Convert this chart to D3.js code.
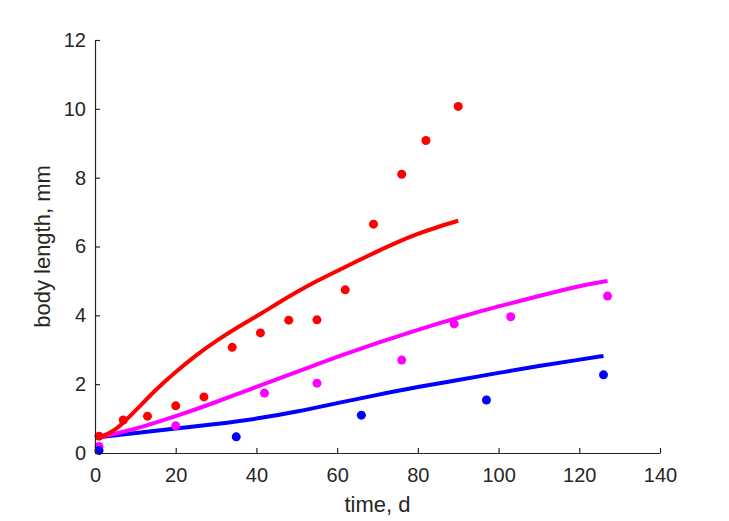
<!DOCTYPE html>
<html>
<head>
<meta charset="utf-8">
<script src="https://cdn.jsdelivr.net/npm/d3@7"></script>
<style>
  html, body { margin: 0; padding: 0; background: #fff; }
  svg { display: block; }
  text { font-family: "Liberation Sans", Arial, Helvetica, sans-serif; }
</style>
</head>
<body>
<svg id="chart" width="729" height="521"></svg>
<script>
// ---- data ----
const xTicks = [0, 20, 40, 60, 80, 100, 120, 140];
const yTicks = [0, 2, 4, 6, 8, 10, 12];

const redDotsT = [1, 7, 13, 20, 27, 34, 41, 48, 55, 62, 69, 76, 82, 90];
const redDotsL = [0.49, 0.96, 1.07, 1.37, 1.63, 3.07, 3.49, 3.86, 3.87, 4.74, 6.65, 8.1, 9.08, 10.07];

const magDotsT = [1, 20, 42, 55, 76, 89, 103, 127];
const magDotsL = [0.19, 0.79, 1.74, 2.03, 2.7, 3.75, 3.96, 4.56];

const blueDotsT = [1, 35, 66, 97, 126];
const blueDotsL = [0.07, 0.47, 1.1, 1.54, 2.27];

const redLineT = [1, 3, 5, 7, 10, 15, 20, 25, 30, 35, 40, 45, 50, 55, 60, 65, 70, 75, 80, 85, 90];
const redLineL = [0.46, 0.54, 0.67, 0.88, 1.22, 1.84, 2.36, 2.84, 3.26, 3.63, 3.97, 4.33, 4.68, 5.0, 5.29, 5.58, 5.86, 6.13, 6.37, 6.57, 6.75];

const magLineT = [1, 5, 10, 15, 20, 25, 30, 35, 40, 45, 50, 55, 60, 65, 70, 75, 80, 85, 90, 95, 100, 105, 110, 115, 120, 127];
const magLineL = [0.47, 0.56, 0.7, 0.88, 1.07, 1.27, 1.48, 1.7, 1.92, 2.14, 2.36, 2.58, 2.79, 3.0, 3.2, 3.39, 3.58, 3.76, 3.93, 4.1, 4.26, 4.41, 4.56, 4.71, 4.85, 5.0];

const blueLineT = [1, 10, 20, 30, 40, 50, 60, 70, 80, 90, 100, 110, 120, 126];
const blueLineL = [0.46, 0.58, 0.71, 0.84, 0.99, 1.2, 1.45, 1.69, 1.92, 2.12, 2.33, 2.53, 2.71, 2.82];

// ---- layout ----
const svg = d3.select("#chart");
const mLeft = 95, mRight = 660, mTop = 40, mBottom = 453;
const axisColor = "#262626";

const x = d3.scaleLinear().domain([0, 140]).range([mLeft, mRight]);
const y = d3.scaleLinear().domain([0, 12]).range([mBottom, mTop]);

const zip = (a, b) => a.map((v, i) => [v, b[i]]);

const line = d3.line().x(d => x(d[0])).y(d => y(d[1])).curve(d3.curveBasis);

const lines = [
  { t: blueLineT, l: blueLineL, c: "#0000ff" },
  { t: magLineT, l: magLineL, c: "#ff00ff" },
  { t: redLineT, l: redLineL, c: "#ff0000" }
];
lines.forEach(s => {
  svg.append("path")
    .datum(zip(s.t, s.l))
    .attr("fill", "none")
    .attr("stroke", s.c)
    .attr("stroke-width", 4)
    .attr("d", line);
});

const dots = [
  { t: redDotsT, l: redDotsL, c: "#ff0000" },
  { t: magDotsT, l: magDotsL, c: "#ff00ff" },
  { t: blueDotsT, l: blueDotsL, c: "#0000ff" }
];
dots.forEach(s => {
  svg.append("g").selectAll("circle")
    .data(zip(s.t, s.l))
    .join("circle")
    .attr("cx", d => x(d[0]))
    .attr("cy", d => y(d[1]))
    .attr("r", 4.5)
    .attr("fill", s.c);
});

// ---- axes ----
const xAxis = d3.axisBottom(x).tickValues(xTicks).tickSizeInner(-5).tickSizeOuter(0).tickPadding(15);
const yAxis = d3.axisLeft(y).tickValues(yTicks).tickSizeInner(-5).tickSizeOuter(0).tickPadding(9);

const gx = svg.append("g").attr("transform", `translate(0,${mBottom})`).call(xAxis);
const gy = svg.append("g").attr("transform", `translate(${mLeft},0)`).call(yAxis);

[gx, gy].forEach(g => {
  g.select(".domain").attr("stroke", axisColor).attr("stroke-width", 1.2);
  g.selectAll(".tick line").attr("stroke", axisColor).attr("stroke-width", 1.2);
  g.selectAll(".tick text")
    .attr("fill", axisColor)
    .style("font-size", "20px")
    .style("font-family", '"Liberation Sans", Arial, sans-serif');
});

svg.append("text")
  .attr("x", (mLeft + mRight) / 2)
  .attr("y", 512)
  .attr("text-anchor", "middle")
  .attr("fill", axisColor)
  .style("font-size", "22px")
  .text("time, d");

svg.append("text")
  .attr("transform", `translate(50,${(mTop + mBottom) / 2}) rotate(-90)`)
  .attr("text-anchor", "middle")
  .attr("fill", axisColor)
  .style("font-size", "22px")
  .text("body length, mm");
</script>
</body>
</html>
